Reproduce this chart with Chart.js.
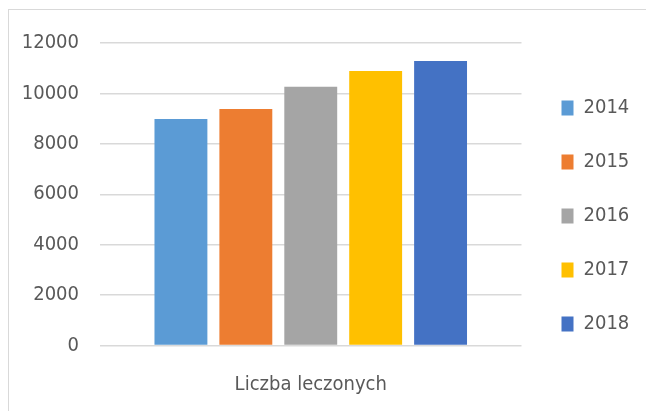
<!DOCTYPE html>
<html>
<head>
<meta charset="utf-8">
<script src="https://cdn.jsdelivr.net/npm/chart.js@4"></script>
<style>
    html, body { margin: 0; padding: 0; background: #fff; overflow: hidden; }
    #wrap { position: relative; width: 646px; height: 411px; }
    #frame { position: absolute; left: 8px; top: 9px; width: 700px; height: 500px; border: 1px solid #d9d9d9; }
    canvas { position: absolute; left: 0; top: 0; }
</style>
</head>
<body>
<div id="wrap">
    <div id="frame"></div>
    <canvas id="chart" width="646" height="411"></canvas>
</div>
<script>
// --- DONNEES ---
const categories = ['Liczba leczonych'];
const years = ['2014', '2015', '2016', '2017', '2018'];
const values2014 = [8990];
const values2015 = [9380];
const values2016 = [10260];
const values2017 = [10890];
const values2018 = [11290];
const yTicks = [0, 2000, 4000, 6000, 8000, 10000, 12000];

const colors = ['#5B9BD5', '#ED7D31', '#A5A5A5', '#FFC000', '#4472C4'];
const seriesValues = [values2014, values2015, values2016, values2017, values2018];

const FONT = "'DejaVu Sans Condensed', 'Liberation Sans', sans-serif";
const TEXT = '#595959';

const ctx = document.getElementById('chart').getContext('2d');

new Chart(ctx, {
    type: 'bar',
    data: {
        labels: categories,
        datasets: years.map((y, i) => ({
            label: y,
            data: seriesValues[i],
            backgroundColor: colors[i],
            borderWidth: 0,
            categoryPercentage: 0.77,
            barPercentage: 0.815
        }))
    },
    options: {
        responsive: false,
        animation: false,
        layout: { padding: { top: 43, right: 13, bottom: 0, left: 0 } },
        plugins: {
            tooltip: { enabled: false },
            legend: {
                position: 'right',
                align: 'start',
                // titre vide : sert juste à descendre les entrées
                title: { display: true, text: ' ', font: { size: 10 }, padding: 4.5 },
                labels: {
                    boxWidth: 12,
                    boxHeight: 15,
                    padding: 34,
                    color: TEXT,
                    font: { family: FONT, size: 20 }
                }
            }
        },
        scales: {
            x: {
                grid: { display: false },
                border: { display: false },
                ticks: { color: TEXT, padding: 19.5, font: { family: FONT, size: 20 } },
                afterFit: s => { s.height = 65.5; }
            },
            y: {
                min: 0,
                max: 12000,
                afterBuildTicks: s => { s.ticks = yTicks.map(v => ({ value: v })); },
                grid: { color: '#d9d9d9', lineWidth: 1.4, drawTicks: false },
                border: { display: false },
                ticks: {
                    color: TEXT,
                    padding: 21,
                    font: { family: FONT, size: 20 },
                    callback: v => String(v)
                },
                afterFit: s => { s.width = 100; }
            },
            // espace vide entre la zone du graphe et la légende
            gap: {
                type: 'linear',
                position: 'right',
                display: true,
                grid: { display: false },
                border: { display: false },
                ticks: { display: false },
                afterFit: s => { s.width = 6; }
            }
        }
    }
});
</script>
</body>
</html>
